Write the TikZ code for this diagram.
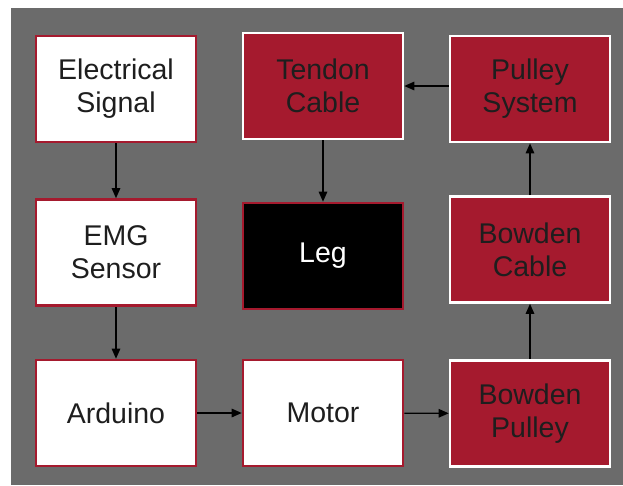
\documentclass[tikz,border=0pt]{standalone}
\usepackage{fontspec}
\setmainfont{Liberation Sans}
\usetikzlibrary{arrows.meta}
\definecolor{crimson}{HTML}{A51A2E}
\definecolor{bggray}{HTML}{6B6B6B}
\definecolor{txtdark}{HTML}{1E1E1E}
\tikzset{
  blk/.style={rectangle, minimum width=160pt, minimum height=106pt, inner sep=0pt,
    align=center, font=\fontsize{28.5}{33}\selectfont, line width=2.6pt},
  whitebox/.style={blk, draw=crimson, fill=white, text=txtdark},
  redbox/.style={blk, draw=white, fill=crimson, text=txtdark},
  blackbox/.style={blk, draw=crimson, fill=black, text=white},
  conn/.style={line width=1.3pt, -{Triangle[length=10pt,width=8.5pt]}}
}
\begin{document}
\begin{tikzpicture}[x=1pt,y=-1pt]
\useasboundingbox (0,0) rectangle (623,485);
\fill[bggray] (11,7.5) rectangle (623,485);
\node[whitebox] (es) at (116,89) {Electrical\\Signal};
\node[whitebox] (emg) at (116,252.5) {EMG\\Sensor};
\node[whitebox] (ard) at (116,413) {Arduino};
\node[redbox] (tc) at (323,86) {Tendon\\Cable};
\node[blackbox] (leg) at (323,256) {Leg};
\node[whitebox] (mot) at (323,413) {Motor};
\node[redbox] (ps) at (530,89) {Pulley\\System};
\node[redbox] (bc) at (530,249.5) {Bowden\\Cable};
\node[redbox] (bp) at (530,413.5) {Bowden\\Pulley};
\draw[conn] (es) -- (emg);
\draw[conn] (emg) -- (ard);
\draw[conn] (ard) -- (mot);
\draw[conn] (mot) -- (bp);
\draw[conn] (bp) -- (bc);
\draw[conn] (bc) -- (ps);
\draw[conn] (ps.west |- tc.east) -- (tc.east);
\draw[conn] (tc) -- (leg);
\end{tikzpicture}
\end{document}
